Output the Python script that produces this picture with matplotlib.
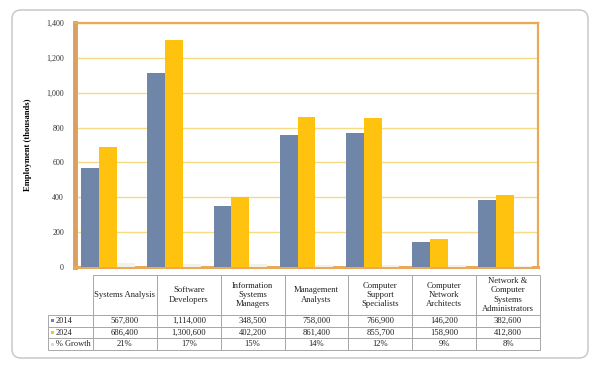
import matplotlib.pyplot as plt
import numpy as np
from matplotlib.patches import FancyBboxPatch, Rectangle

# data (thousands)
categories = ["Systems Analysis", "Software\nDevelopers", "Information\nSystems\nManagers",
              "Management\nAnalysts", "Computer\nSupport\nSpecialists", "Computer\nNetwork\nArchitects",
              "Network &\nComputer\nSystems\nAdministrators"]
emp_2014 = [567.8, 1114.0, 348.5, 758.0, 766.9, 146.2, 382.6]
emp_2024 = [686.4, 1300.6, 402.2, 861.4, 855.7, 158.9, 412.8]
growth = [21, 17, 15, 14, 12, 9, 8]
series_names = ["2014", "2024", "% Growth"]
y_ticks = [0, 200, 400, 600, 800, 1000, 1200, 1400]

c14 = "#6F86A8"
c24 = "#FFC20E"
cgr = "#F4F0EA"
orange = "#E9A85A"
grid_c = "#F6DA86"
plt.rcParams["font.family"] = "Liberation Serif"

fig = plt.figure(figsize=(6, 3.66), dpi=100)

# background layer: rounded frame + table
bg = fig.add_axes([0, 0, 1, 1])
bg.set_xlim(0, 600)
bg.set_ylim(366, 0)
bg.axis("off")
bg.add_patch(FancyBboxPatch((12, 10), 576, 348, boxstyle="round,pad=0,rounding_size=9",
                            fc="white", ec="#C4C4C4", lw=1.0))

ax = fig.add_axes([75 / 600, 1 - 267 / 366, 463 / 600, 244 / 366])
ax.set_zorder(2)
x = np.arange(len(categories))
w = 0.27
ax.bar(x - w, emp_2014, w, color=c14, zorder=3)
ax.bar(x, emp_2024, w, color=c24, zorder=3)
ax.bar(x + w, growth, w, color=cgr, zorder=3)
ax.set_xlim(-0.5, len(categories) - 0.5)
ax.set_ylim(0, 1400)
ax.set_yticks(y_ticks)
ax.set_yticklabels([f"{v:,}" for v in y_ticks], fontsize=5.8, color="#333333")
ax.set_xticks([])
ax.tick_params(axis="y", length=0, pad=8)
ax.yaxis.grid(True, color=grid_c, lw=1.0, zorder=0)
for s in ["top", "right"]:
    ax.spines[s].set_color(orange)
    ax.spines[s].set_linewidth(1.6)
ax.spines["bottom"].set_color(orange)
ax.spines["bottom"].set_linewidth(2.2)
ax.spines["left"].set_color("#DAA060")
ax.spines["left"].set_linewidth(3.5)
ax.set_ylabel("Employment (thousands)", fontsize=6.2, fontweight="bold", labelpad=10)

# table
col_left = 93
col_w = (540 - 93) / len(categories)
head_top, head_bot = 275, 315
row_h = 11.7
lab_left = 48
line_c = "#A8A8A8"
rows = [[f"{int(round(v * 1000)):,}" for v in emp_2014],
        [f"{int(round(v * 1000)):,}" for v in emp_2024],
        [f"{g}%" for g in growth]]
keys = [c14, c24, "#D8D8E2"]

for i, cat in enumerate(categories):
    x0 = col_left + i * col_w
    bg.add_patch(Rectangle((x0, head_top), col_w, head_bot - head_top, fc="none", ec=line_c, lw=0.7))
    bg.text(x0 + col_w / 2, (head_top + head_bot) / 2, cat, ha="center", va="center",
            fontsize=6.2, color="#222222", linespacing=1.25)
    for r in range(3):
        y0 = head_bot + r * row_h
        bg.add_patch(Rectangle((x0, y0), col_w, row_h, fc="none", ec=line_c, lw=0.7))
        bg.text(x0 + col_w / 2, y0 + row_h / 2, rows[r][i], ha="center", va="center",
                fontsize=6.2, color="#222222")

for r in range(3):
    y0 = head_bot + r * row_h
    bg.add_patch(Rectangle((lab_left, y0), col_left - lab_left, row_h, fc="none", ec=line_c, lw=0.7))
    bg.add_patch(Rectangle((lab_left + 2.5, y0 + row_h / 2 - 1.6), 3.2, 3.2, fc=keys[r], ec="none"))
    bg.text(lab_left + 8, y0 + row_h / 2, series_names[r], ha="left", va="center",
            fontsize=6.0, color="#222222")

fig.savefig("out.png", dpi=100)
